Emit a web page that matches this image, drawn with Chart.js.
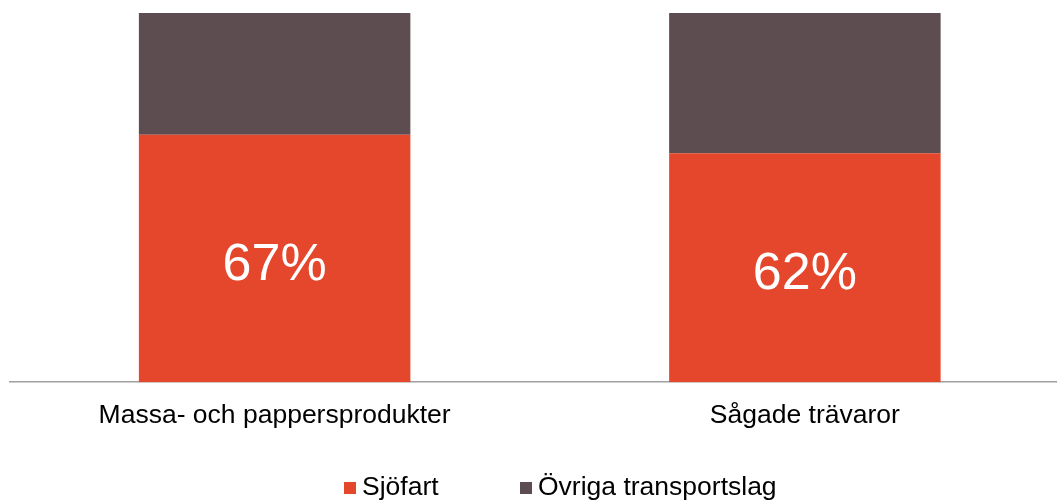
<!DOCTYPE html>
<html>
<head>
<meta charset="utf-8">
<script src="https://cdn.jsdelivr.net/npm/chart.js@4/dist/chart.umd.min.js"></script>
<style>
    html, body { margin: 0; padding: 0; background: #ffffff; overflow: hidden; }
    #wrap { position: relative; width: 1070px; height: 500px; }
</style>
</head>
<body>
<div id="wrap"><canvas id="shareChart"></canvas></div>
<script>
// Chart data
const categories = ['Massa- och pappersprodukter', 'Sågade trävaror'];
const seaShare = [67, 62];
const otherShare = [33, 38];
const seriesNames = ['Sjöfart', 'Övriga transportslag'];

const seaColor = '#e5472d';
const otherColor = '#5d4d50';
const fontFamily = "'Liberation Sans', Arial, sans-serif";

// Percent labels inside the first (red) segment
const segmentLabels = {
    id: 'segmentLabels',
    afterDatasetsDraw(chart) {
        const ctx = chart.ctx;
        const meta = chart.getDatasetMeta(0);
        ctx.save();
        ctx.font = '52px ' + fontFamily;
        ctx.fillStyle = '#ffffff';
        ctx.textAlign = 'center';
        ctx.textBaseline = 'middle';
        meta.data.forEach((bar, i) => {
            const p = bar.getProps(['x', 'y', 'base'], true);
            ctx.fillText(seaShare[i] + '%', p.x, (p.y + p.base) / 2 + 7);
        });
        ctx.restore();
    }
};

// Legend drawn under the axis from the dataset labels and colours
const bottomLegend = {
    id: 'bottomLegend',
    afterDraw(chart) {
        const ctx = chart.ctx;
        const starts = [344, 520];
        ctx.save();
        ctx.font = '26.5px ' + fontFamily;
        ctx.textBaseline = 'middle';
        chart.data.datasets.forEach((ds, i) => {
            ctx.fillStyle = ds.backgroundColor;
            ctx.fillRect(starts[i], 482, 12, 12);
            ctx.fillStyle = '#000000';
            ctx.fillText(ds.label, starts[i] + 18, 488);
        });
        ctx.restore();
    }
};

new Chart(document.getElementById('shareChart'), {
    type: 'bar',
    data: {
        labels: categories,
        datasets: [
            {
                label: seriesNames[0],
                data: seaShare,
                backgroundColor: seaColor,
                borderWidth: 0,
                categoryPercentage: 1,
                barPercentage: 0.512
            },
            {
                label: seriesNames[1],
                data: otherShare,
                backgroundColor: otherColor,
                borderWidth: 0,
                categoryPercentage: 1,
                barPercentage: 0.512
            }
        ]
    },
    options: {
        responsive: true,
        maintainAspectRatio: false,
        animation: false,
        layout: {
            padding: { top: 13, left: 9.5, right: 0, bottom: 50 }
        },
        scales: {
            x: {
                stacked: true,
                grid: { display: false, drawTicks: false },
                border: { display: true, color: '#a0a0a0', width: 1.5 },
                ticks: {
                    color: '#000000',
                    padding: 18,
                    maxRotation: 0,
                    font: { family: fontFamily, size: 26.5 }
                }
            },
            y: {
                stacked: true,
                display: false,
                min: 0,
                max: 100
            }
        },
        plugins: {
            legend: { display: false },
            tooltip: { enabled: false }
        }
    },
    plugins: [segmentLabels, bottomLegend]
});
</script>
</body>
</html>
